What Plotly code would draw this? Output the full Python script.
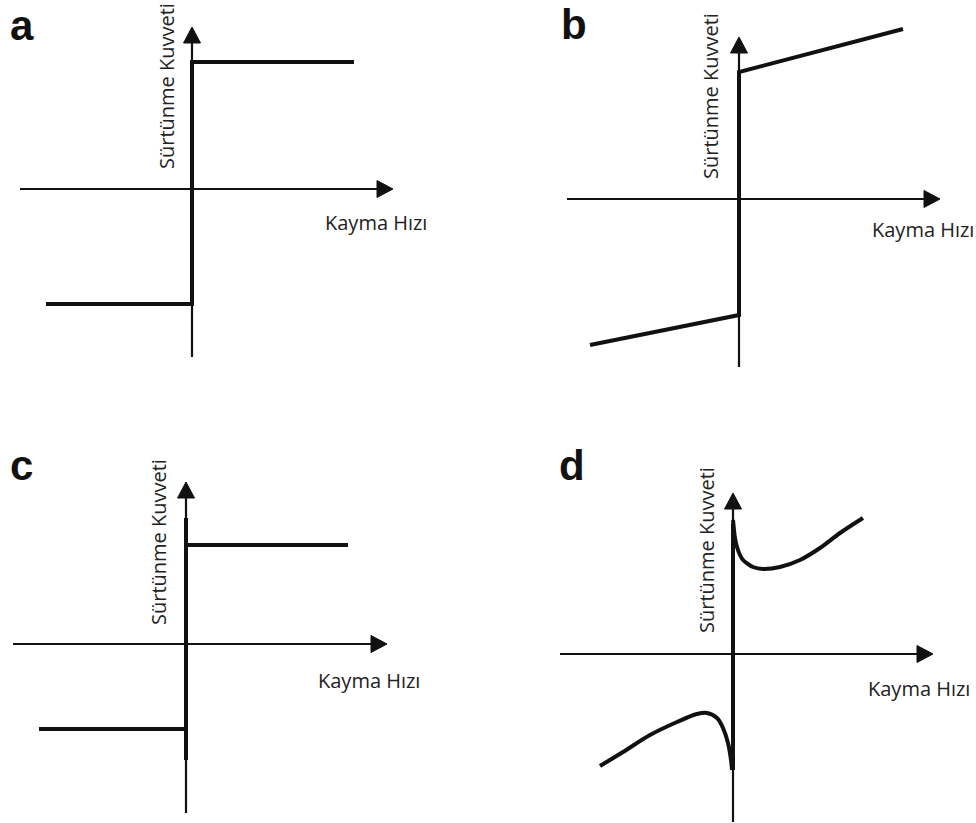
import plotly.graph_objects as go

W, H = 976, 823
SCALE = 100.0  # pixels per data unit

# ---------------- data (arbitrary friction units) ----------------
# a: Coulomb friction
a_x = [-1.46, 0.0, 0.0, 1.62]
a_y = [-1.15, -1.15, 1.27, 1.27]
# b: Coulomb + viscous
b_x = [-1.49, 0.0, 0.0, 1.64]
b_y = [-1.46, -1.16, 1.27, 1.70]
# c: static + Coulomb
c_upper_x = [0.0, 1.62]
c_upper_y = [0.99, 0.99]
c_lower_x = [-1.47, 0.0]
c_lower_y = [-0.85, -0.85]
c_static_y = [-1.16, 1.26]
# d: Stribeck
d_upper_x = [0.0, 0.01, 0.02, 0.04, 0.07, 0.10, 0.15, 0.20, 0.30, 0.47, 0.67, 0.87, 1.07, 1.30]
d_upper_y = [1.34, 1.24, 1.16, 1.07, 0.99, 0.94, 0.90, 0.87, 0.85, 0.87, 0.94, 1.06, 1.21, 1.36]
d_lower_x = [-1.33, -1.10, -0.83, -0.56, -0.36, -0.26, -0.16, -0.10, -0.05, -0.02, -0.01]
d_lower_y = [-1.12, -0.98, -0.81, -0.68, -0.60, -0.59, -0.64, -0.74, -0.89, -1.06, -1.16]
d_static_y = [-1.16, 1.30]

panel_letters = ["a", "b", "c", "d"]
x_title = "Kayma Hızı"
y_title = "Sürtünme Kuvveti"

# ---------------- layout constants ----------------
# origin pixel of each panel, axis extents (data units), quadrant pixel boxes
panels = {
    "a": dict(origin=(192, 189), xext=(-1.72, 2.01), yext=(-1.68, 1.62), box=(0, 488, 0, 411.5),
              letter=(21.5, 26), xlab=(376, 223), ylab=(166.5, 86.5)),
    "b": dict(origin=(739, 199), xext=(-1.72, 2.01), yext=(-1.68, 1.62), box=(488, 976, 0, 411.5),
              letter=(573.5, 24), xlab=(923, 230), ylab=(710.5, 96.5)),
    "c": dict(origin=(186, 644), xext=(-1.73, 2.01), yext=(-1.69, 1.62), box=(0, 488, 411.5, 823),
              letter=(21.5, 465), xlab=(369, 680), ylab=(158.5, 542.5)),
    "d": dict(origin=(733, 654), xext=(-1.73, 2.00), yext=(-1.68, 1.61), box=(488, 976, 411.5, 823),
              letter=(571.5, 465), xlab=(919, 688), ylab=(706.5, 550.5)),
}

INK = "#111111"
TEXT = "#222222"
CURVE_W = 4
AXIS_W = 2.2
HEAD_L = 0.16
HEAD_HW = 0.085

fig = go.Figure()
layout_axes = {}
annotations = []

def line(xs, ys, ax, width=CURVE_W, shape="linear"):
    fig.add_trace(go.Scatter(x=xs, y=ys, mode="lines", xaxis=ax[0], yaxis=ax[1],
                             line=dict(color=INK, width=width, shape=shape),
                             hoverinfo="skip", showlegend=False))

def head(tip, direction, ax):
    tx, ty = tip
    if direction == "right":
        xs = [tx, tx - HEAD_L, tx - HEAD_L, tx]
        ys = [ty, ty + HEAD_HW, ty - HEAD_HW, ty]
    else:
        xs = [tx, tx - HEAD_HW, tx + HEAD_HW, tx]
        ys = [ty, ty - HEAD_L, ty - HEAD_L, ty]
    fig.add_trace(go.Scatter(x=xs, y=ys, mode="lines", fill="toself", fillcolor=INK,
                             xaxis=ax[0], yaxis=ax[1], line=dict(color=INK, width=1),
                             hoverinfo="skip", showlegend=False))

for i, key in enumerate(["a", "b", "c", "d"]):
    p = panels[key]
    n = "" if i == 0 else str(i + 1)
    ax = ("x" + n, "y" + n)
    ox, oy = p["origin"]
    x0, x1, y0, y1 = p["box"]
    layout_axes["xaxis" + n] = dict(domain=[x0 / W, x1 / W], range=[(x0 - ox) / SCALE, (x1 - ox) / SCALE],
                                    visible=False, anchor="y" + n, fixedrange=True)
    layout_axes["yaxis" + n] = dict(domain=[1 - y1 / H, 1 - y0 / H], range=[(oy - y1) / SCALE, (oy - y0) / SCALE],
                                    visible=False, anchor="x" + n, fixedrange=True)
    # axes with arrows
    xe, ye = p["xext"], p["yext"]
    line([xe[0], xe[1] - HEAD_L / 2], [0, 0], ax, width=AXIS_W)
    line([0, 0], [ye[0], ye[1] - HEAD_L / 2], ax, width=AXIS_W)
    head((xe[1], 0), "right", ax)
    head((0, ye[1]), "up", ax)

    if key == "a":
        line(a_x, a_y, ax)
    elif key == "b":
        line(b_x, b_y, ax)
    elif key == "c":
        line([0, 0], c_static_y, ax)
        line(c_upper_x, c_upper_y, ax)
        line(c_lower_x, c_lower_y, ax)
    else:
        line([0, 0], d_static_y, ax)
        line(d_upper_x, d_upper_y, ax, shape="spline")
        line(d_lower_x, d_lower_y, ax, shape="spline")

    lx, ly = p["letter"]
    annotations.append(dict(text="<b>%s</b>" % panel_letters[i], x=lx / W, y=1 - ly / H,
                            xref="paper", yref="paper", showarrow=False, xanchor="center", yanchor="middle",
                            font=dict(family="Liberation Sans, Arial", size=42, color="#111111")))
    tx, ty = p["xlab"]
    annotations.append(dict(text=x_title, x=tx / W, y=1 - ty / H, xref="paper", yref="paper",
                            showarrow=False, xanchor="center", yanchor="middle",
                            font=dict(family="Open Sans", size=20, color=TEXT)))
    vx, vy = p["ylab"]
    annotations.append(dict(text=y_title, x=vx / W, y=1 - vy / H, xref="paper", yref="paper",
                            showarrow=False, xanchor="center", yanchor="middle", textangle=-90,
                            font=dict(family="Open Sans", size=20, color=TEXT)))

fig.update_layout(width=W, height=H, margin=dict(l=0, r=0, t=0, b=0),
                  paper_bgcolor="white", plot_bgcolor="white", showlegend=False,
                  annotations=annotations, **layout_axes)

fig.write_html("out.html", config={"displayModeBar": False})
